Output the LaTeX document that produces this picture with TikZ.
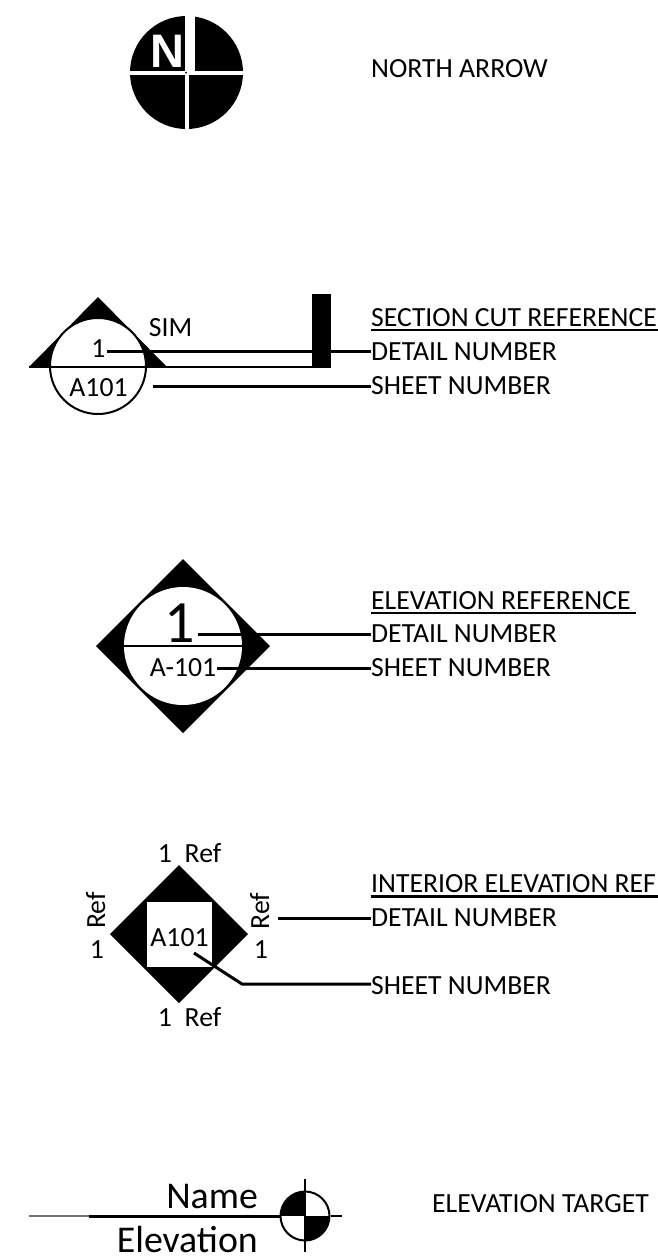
\documentclass[tikz,border=0pt]{standalone}
\usepackage{fontspec}
\setmainfont{Carlito}
\newfontfamily\northfont{Liberation Sans}
\tikzset{
  lbl/.style={inner sep=0pt,anchor=base west,font=\fontsize{27.7}{30}\selectfont},
  sym/.style={inner sep=0pt,anchor=base,font=\fontsize{27.7}{30}\selectfont},
  leader/.style={line width=3pt,black},
  thin line/.style={line width=2pt,black},
  ul/.style={line width=2.4pt,black}
}
\begin{document}
\begin{tikzpicture}[x=1pt,y=-1pt]
\useasboundingbox (0,0) rectangle (658,1259);
% ---- north arrow
\fill (186.5,72.5) circle (56.5);
\fill[white] (184.5,10) rectangle (195,70.5);
\fill[white] (125,70.5) rectangle (248,74.5);
\fill[white] (185,70.5) rectangle (188.5,135);
\fill (186,72.5) circle (1);
\node[inner sep=0pt,anchor=base,text=white,font=\fontsize{47}{47}\selectfont\northfont\bfseries] (northN) at (167.5,67) {N};
\node[lbl] (northL) at (371,77) {NORTH ARROW};
% ---- section cut
\fill (29,367) -- (98,297) -- (167,367) -- cycle;
\fill[white] (98,366) circle (48);
\draw[thin line] (98,366) circle (48);
\fill (312,294) rectangle (331,367.5);
\coordinate (secBase) at (29,367);
\coordinate (secBaseEnd) at (331,367);
\draw[thin line] (secBase) -- (secBaseEnd);
\node[sym] (secNum) at (98.5,357) {1};
\node[sym] (secSheet) at (98.5,396) {A101};
\node[sym] (secSim) at (170.5,336) {SIM};
\node[lbl] (secT) at (371,326) {SECTION CUT REFERENCE};
\node[lbl] (secD) at (371,360) {DETAIL NUMBER};
\node[lbl] (secS) at (371,394) {SHEET NUMBER};
\coordinate (secA) at (107,351);
\coordinate (secB) at (153,386);
\draw[leader] (secA) -- (secD.west|-secA);
\draw[leader] (secB) -- (secS.west|-secB);
\draw[ul] (371,330) -- (658,330);
% ---- elevation reference
\fill (183,559) -- (270,646) -- (183,733) -- (96,646) -- cycle;
\fill[white] (183,646) circle (59);
\coordinate (elL) at (124,646);
\coordinate (elR) at (242,646);
\draw[thin line] (elL) -- (elR);
\node[sym,font=\fontsize{60}{60}\selectfont] (elNum) at (180,642) {1};
\node[sym] (elSheet) at (183,676.5) {A-101};
\node[lbl] (elT) at (371,609) {ELEVATION REFERENCE};
\node[lbl] (elD) at (371,642) {DETAIL NUMBER};
\node[lbl] (elS) at (371,676.5) {SHEET NUMBER};
\coordinate (elA) at (198,634);
\coordinate (elB) at (217,668);
\draw[leader] (elA) -- (elD.west|-elA);
\draw[leader] (elB) -- (elS.west|-elB);
\draw[ul] (371,613) -- (636,613);
% ---- interior elevation
\fill (179,865) -- (248,934) -- (179,1003) -- (110,934) -- cycle;
\fill[white] (147,902) rectangle (212,967);
\node[sym] (intSheet) at (179.5,946) {A101};
\node[sym] (intN1) at (165,862) {1};
\node[sym] (intR1) at (203,862.5) {Ref};
\node[sym] (intN2) at (165,1026) {1};
\node[sym] (intR2) at (203,1026) {Ref};
\node[sym,rotate=90] (intR3) at (105,910.5) {Ref};
\node[sym] (intN3) at (97,958) {1};
\node[sym,rotate=90] (intR4) at (269,911) {Ref};
\node[sym] (intN4) at (261,958) {1};
\node[lbl] (intT) at (371,892.3) {INTERIOR ELEVATION REF};
\node[lbl] (intD) at (371,926.7) {DETAIL NUMBER};
\node[lbl] (intS) at (371,994) {SHEET NUMBER};
\coordinate (intA) at (278,918);
\coordinate (intB) at (194,953);
\coordinate (intC) at (242,984);
\draw[leader] (intA) -- (intD.west|-intA);
\draw[leader] (intB) -- (intC) -- (intS.west|-intC);
\draw[ul] (371,896.5) -- (658,896.5);
% ---- elevation target
\begin{scope}
\clip (305,1216) circle (24.5);
\fill (280,1191) rectangle (305,1216);
\fill (305,1216) rectangle (330,1241);
\end{scope}
\node[sym,anchor=base east,font=\fontsize{37.8}{38}\selectfont] (tgtName) at (258,1208) {Name};
\node[sym,anchor=base east,font=\fontsize{37.8}{38}\selectfont] (tgtElev) at (258,1252) {Elevation};
\node[minimum size=49pt,circle,draw,line width=2pt,inner sep=0pt] (tgtC) at (305,1216) {};
\coordinate (tgtL) at (29,1216);
\coordinate (tgtM) at (89,1216);
\coordinate (tgtE) at (342,1216);
\coordinate (tgtT) at (305,1179);
\coordinate (tgtB) at (305,1252);
\draw[line width=2pt,black!55] (tgtL) -- (tgtM);
\draw[leader] (tgtM) -- (tgtC.west);
\draw[thin line] (tgtC.east) -- (tgtE);
\draw[thin line] (tgtT) -- (tgtB);
\node[lbl] (tgtLbl) at (432,1212) {ELEVATION TARGET};
\end{tikzpicture}
\end{document}
